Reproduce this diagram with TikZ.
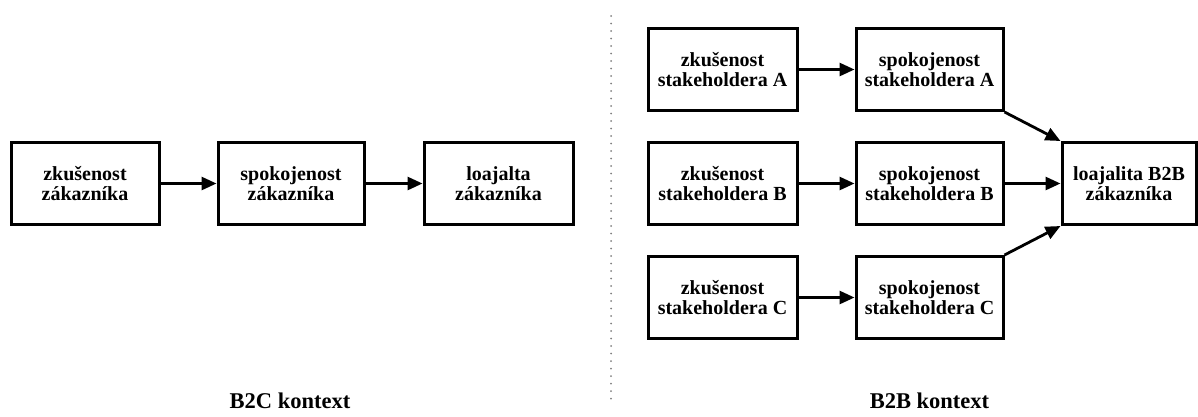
\documentclass[tikz,border=0pt]{standalone}
\usepackage{fontspec}
\setmainfont{Liberation Serif}
\usetikzlibrary{arrows.meta}

\tikzset{
  box/.style={draw, line width=3pt, minimum height=82pt, inner sep=0pt,
    align=center, font=\bfseries\fontsize{20}{20}\selectfont},
  arr/.style={line width=2.8pt, -{Triangle[length=15pt,width=13pt]}},
  ctx/.style={font=\bfseries\fontsize{22.5}{22.5}\selectfont}
}

\begin{document}
\begin{tikzpicture}[x=1pt,y=-1pt]

\useasboundingbox (0,0) rectangle (1198,416);

% B2C
\node[box, minimum width=148pt] (zk) at (85,183.5) {zkušenost\\zákazníka};
\node[box, minimum width=146pt] (sp) at (291,183.5) {spokojenost\\zákazníka};
\node[box, minimum width=149pt] (lo) at (498.5,183.5) {loajalta\\zákazníka};

\draw[arr] (zk) -- (sp);
\draw[arr] (sp) -- (lo);

\node[ctx] (ctx1) at (290,401) {B2C kontext};

% separator
\draw[gray, line width=2pt, line cap=round, dash pattern=on 0pt off 7.5pt] (611,16) -- (611,402);

% B2B
\node[box, minimum width=149pt] (zkA) at (722.5,69.5) {zkušenost\\stakeholdera A};
\node[box, minimum width=149pt] (zkB) at (722.5,183.5) {zkušenost\\stakeholdera B};
\node[box, minimum width=149pt] (zkC) at (722.5,297.5) {zkušenost\\stakeholdera C};

\node[box, minimum width=147pt] (spA) at (929.5,69.5) {spokojenost\\stakeholdera A};
\node[box, minimum width=147pt] (spB) at (929.5,183.5) {spokojenost\\stakeholdera B};
\node[box, minimum width=147pt] (spC) at (929.5,297.5) {spokojenost\\stakeholdera C};

\node[box, minimum width=134pt] (loB) at (1129,183.5) {loajalita B2B\\zákazníka};

\draw[arr] (zkA) -- (spA);
\draw[arr] (zkB) -- (spB);
\draw[arr] (zkC) -- (spC);

\draw[arr] (spA.south east) -- (loB.north west);
\draw[arr] (spB) -- (loB);
\draw[arr] (spC.north east) -- (loB.south west);

\node[ctx] (ctx2) at (929.5,401) {B2B kontext};

\end{tikzpicture}
\end{document}
